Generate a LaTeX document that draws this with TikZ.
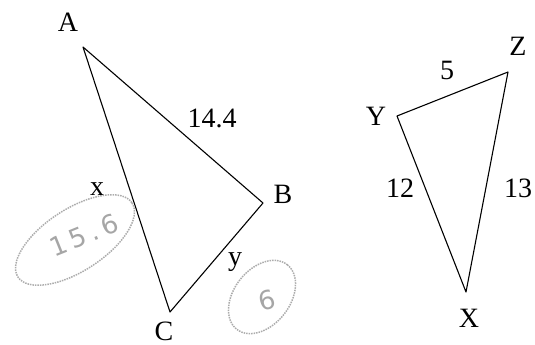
\documentclass[tikz,border=0pt]{standalone}
\usepackage{fontspec}
\setmainfont{Liberation Serif}
\newfontfamily\handfont[LetterSpace=18]{DejaVu Sans}
\begin{document}
\begin{tikzpicture}[x=1pt,y=-1pt,
  lbl/.style={font=\fontsize{28}{28}\selectfont, inner sep=0pt},
  edge/.style={line width=1.1pt, line join=round},
  hand/.style={gray!65, line width=1.5pt, densely dotted},
  handtxt/.style={gray!70, font=\handfont\fontsize{26}{26}\selectfont, inner sep=0pt}]
\useasboundingbox (0,0) rectangle (535,345);
% left triangle
\coordinate (A) at (83,47);
\coordinate (B) at (263,203);
\coordinate (C) at (170,312);
\draw[edge] (A) -- (B) -- (C) -- cycle;
\node[lbl] (lA) at (68,22) {A};
\node[lbl] (lB) at (283,194) {B};
\node[lbl] (lC) at (164,331) {C};
\node[lbl] (l144) at (212,118) {14.4};
\node[lbl] (lx) at (97,189) {x};
\node[lbl] (ly) at (235,262) {y};
% handwritten annotations
\coordinate (e1) at (75,240);
\draw[hand, rotate around={33:(e1)}] (e1) ellipse [x radius=68, y radius=31];
\node[handtxt, rotate=22] (t1) at (84,235) {15.6};
\coordinate (e2) at (262,297);
\draw[hand, rotate around={52:(e2)}] (e2) ellipse [x radius=41, y radius=28];
\node[handtxt, rotate=15] (t2) at (267,300) {6};
% right triangle
\coordinate (Y) at (397,116);
\coordinate (Z) at (508,72);
\coordinate (X) at (466,292);
\draw[edge] (Y) -- (Z) -- (X) -- cycle;
\node[lbl] (lY) at (376,116) {Y};
\node[lbl] (lZ) at (518,46) {Z};
\node[lbl] (lX) at (469,318) {X};
\node[lbl] (l5) at (447,70) {5};
\node[lbl] (l12) at (400,188) {12};
\node[lbl] (l13) at (518,188) {13};
\end{tikzpicture}
\end{document}
